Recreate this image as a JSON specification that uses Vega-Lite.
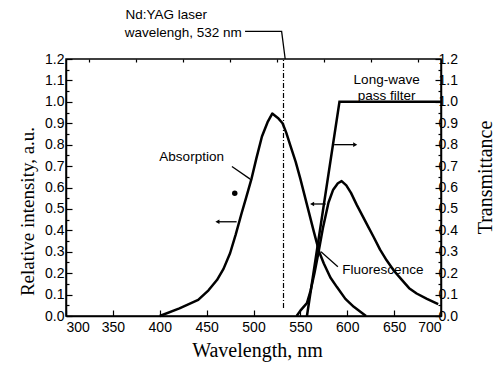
{
  "$schema": "https://vega.github.io/schema/vega-lite/v6.json",
  "width": 375,
  "height": 257,
  "autosize": {"type": "none"},
  "padding": {"left": 66, "top": 59, "right": 56, "bottom": 52},
  "background": "white",
  "config": {
    "view": {"stroke": "black", "strokeWidth": 1.5},
    "axis": {
      "domainColor": "black", "tickColor": "black", "labelColor": "black", "titleColor": "black",
      "grid": false, "labelFont": "Liberation Sans", "labelFontSize": 14, "labelOverlap": false,
      "titleFont": "Liberation Serif", "titleFontSize": 20, "titleFontWeight": "normal",
      "domainWidth": 1.5, "tickWidth": 1.2
    }
  },
  "datasets": {
    "curves": [
      {"series": "Absorption", "wl": 400, "v": 0},
      {"series": "Absorption", "wl": 421, "v": 0.036},
      {"series": "Absorption", "wl": 441, "v": 0.075},
      {"series": "Absorption", "wl": 452, "v": 0.12},
      {"series": "Absorption", "wl": 461, "v": 0.168},
      {"series": "Absorption", "wl": 468, "v": 0.22},
      {"series": "Absorption", "wl": 475, "v": 0.293},
      {"series": "Absorption", "wl": 481, "v": 0.38},
      {"series": "Absorption", "wl": 487, "v": 0.475},
      {"series": "Absorption", "wl": 492, "v": 0.55},
      {"series": "Absorption", "wl": 498, "v": 0.643},
      {"series": "Absorption", "wl": 503, "v": 0.735},
      {"series": "Absorption", "wl": 509, "v": 0.838},
      {"series": "Absorption", "wl": 515, "v": 0.905},
      {"series": "Absorption", "wl": 520, "v": 0.945},
      {"series": "Absorption", "wl": 526, "v": 0.925},
      {"series": "Absorption", "wl": 531, "v": 0.9},
      {"series": "Absorption", "wl": 535, "v": 0.855},
      {"series": "Absorption", "wl": 539, "v": 0.8},
      {"series": "Absorption", "wl": 545, "v": 0.72},
      {"series": "Absorption", "wl": 550, "v": 0.64},
      {"series": "Absorption", "wl": 557, "v": 0.52},
      {"series": "Absorption", "wl": 564, "v": 0.4},
      {"series": "Absorption", "wl": 570, "v": 0.3},
      {"series": "Absorption", "wl": 575, "v": 0.245},
      {"series": "Absorption", "wl": 582, "v": 0.18},
      {"series": "Absorption", "wl": 589, "v": 0.135},
      {"series": "Absorption", "wl": 598, "v": 0.08},
      {"series": "Absorption", "wl": 607, "v": 0.043},
      {"series": "Absorption", "wl": 614, "v": 0.02},
      {"series": "Absorption", "wl": 620, "v": 0},
      {"series": "Fluorescence", "wl": 546, "v": 0},
      {"series": "Fluorescence", "wl": 550, "v": 0.025},
      {"series": "Fluorescence", "wl": 553, "v": 0.04},
      {"series": "Fluorescence", "wl": 557, "v": 0.06},
      {"series": "Fluorescence", "wl": 561, "v": 0.12},
      {"series": "Fluorescence", "wl": 565, "v": 0.2},
      {"series": "Fluorescence", "wl": 569, "v": 0.29},
      {"series": "Fluorescence", "wl": 574, "v": 0.41},
      {"series": "Fluorescence", "wl": 580, "v": 0.53},
      {"series": "Fluorescence", "wl": 585, "v": 0.59},
      {"series": "Fluorescence", "wl": 590, "v": 0.62},
      {"series": "Fluorescence", "wl": 594, "v": 0.63},
      {"series": "Fluorescence", "wl": 599, "v": 0.61},
      {"series": "Fluorescence", "wl": 604, "v": 0.575},
      {"series": "Fluorescence", "wl": 610, "v": 0.52},
      {"series": "Fluorescence", "wl": 616, "v": 0.47},
      {"series": "Fluorescence", "wl": 622, "v": 0.42},
      {"series": "Fluorescence", "wl": 628, "v": 0.37},
      {"series": "Fluorescence", "wl": 635, "v": 0.31},
      {"series": "Fluorescence", "wl": 642, "v": 0.26},
      {"series": "Fluorescence", "wl": 650, "v": 0.21},
      {"series": "Fluorescence", "wl": 658, "v": 0.17},
      {"series": "Fluorescence", "wl": 666, "v": 0.13},
      {"series": "Fluorescence", "wl": 674, "v": 0.105},
      {"series": "Fluorescence", "wl": 685, "v": 0.08},
      {"series": "Fluorescence", "wl": 697, "v": 0.055}
    ],
    "filter": [
      {"wl": 557, "t": 0},
      {"wl": 591.7, "t": 1.0},
      {"wl": 700, "t": 1.0}
    ],
    "laser": [{"wl": 532, "v": 0.037, "v2": 1.2}],
    "segs": [
      {"grp": "laser", "ord": 1, "wl": 491, "v": 1.329},
      {"grp": "laser", "ord": 2, "wl": 530, "v": 1.329},
      {"grp": "laser", "ord": 3, "wl": 533.8, "v": 1.2},
      {"grp": "absLead", "ord": 1, "wl": 477, "v": 0.698},
      {"grp": "absLead", "ord": 2, "wl": 496.5, "v": 0.639},
      {"grp": "fluLead", "ord": 1, "wl": 572, "v": 0.3},
      {"grp": "fluLead", "ord": 2, "wl": 590, "v": 0.23},
      {"grp": "filArrow", "ord": 1, "wl": 586, "v": 0.8},
      {"grp": "filArrow", "ord": 2, "wl": 607, "v": 0.8},
      {"grp": "fluArrow", "ord": 1, "wl": 564, "v": 0.523},
      {"grp": "fluArrow", "ord": 2, "wl": 577, "v": 0.523},
      {"grp": "absArrow", "ord": 1, "wl": 463, "v": 0.44},
      {"grp": "absArrow", "ord": 2, "wl": 482, "v": 0.44}
    ],
    "heads": [
      {"dir": "right", "wl": 608.5, "v": 0.8},
      {"dir": "left", "wl": 562.5, "v": 0.523},
      {"dir": "left", "wl": 461.5, "v": 0.44}
    ],
    "dots": [{"wl": 480, "v": 0.573}],
    "labels": [
      {"text": "Nd:YAG laser", "wl": 407, "v": 1.407},
      {"text": "wavelengh, 532 nm", "wl": 425, "v": 1.323},
      {"text": "Long-wave", "wl": 642, "v": 1.103},
      {"text": "pass filter", "wl": 642, "v": 1.028},
      {"text": "Absorption", "wl": 434, "v": 0.743},
      {"text": "Fluorescence", "wl": 638, "v": 0.215}
    ]
  },
  "resolve": {"scale": {"y": "independent"}, "axis": {"x": "independent", "y": "independent"}},
  "layer": [
    {
      "layer": [
        {
          "data": {"name": "curves"},
          "mark": {"type": "line", "color": "black", "strokeWidth": 2.5, "strokeJoin": "round"},
          "encoding": {
            "x": {"field": "wl", "type": "quantitative", "scale": {"domain": [300, 700], "nice": false, "zero": false},
                  "axis": {"values": [300, 350, 400, 450, 500, 550, 600, 650, 700], "tickSize": -6, "labelPadding": 10,
                           "title": "Wavelength, nm", "titleBaseline": "middle", "titleX": 191, "titleY": 34}},
            "y": {"field": "v", "type": "quantitative", "scale": {"domain": [0, 1.2], "nice": false}, "axis": null},
            "detail": {"field": "series"}
          }
        },
        {
          "data": {"name": "laser"},
          "mark": {"type": "rule", "color": "black", "strokeWidth": 1.2, "strokeDash": [5, 2, 1, 2]},
          "encoding": {
            "x": {"field": "wl", "type": "quantitative"},
            "y": {"field": "v", "type": "quantitative", "axis": null},
            "y2": {"field": "v2"}
          }
        },
        {
          "data": {"name": "segs"},
          "mark": {"type": "line", "color": "black", "strokeWidth": 1.3},
          "encoding": {
            "x": {"field": "wl", "type": "quantitative"},
            "y": {"field": "v", "type": "quantitative", "axis": null},
            "detail": {"field": "grp"},
            "order": {"field": "ord"}
          }
        },
        {
          "data": {"name": "heads"},
          "transform": [{"filter": "datum.dir == 'right'"}],
          "mark": {"type": "point", "shape": "triangle-right", "filled": true, "color": "black", "size": 22, "opacity": 1},
          "encoding": {
            "x": {"field": "wl", "type": "quantitative"},
            "y": {"field": "v", "type": "quantitative", "axis": null}
          }
        },
        {
          "data": {"name": "heads"},
          "transform": [{"filter": "datum.dir == 'left'"}],
          "mark": {"type": "point", "shape": "triangle-left", "filled": true, "color": "black", "size": 22, "opacity": 1},
          "encoding": {
            "x": {"field": "wl", "type": "quantitative"},
            "y": {"field": "v", "type": "quantitative", "axis": null}
          }
        },
        {
          "data": {"name": "dots"},
          "mark": {"type": "point", "shape": "circle", "filled": true, "color": "black", "size": 30, "opacity": 1},
          "encoding": {
            "x": {"field": "wl", "type": "quantitative"},
            "y": {"field": "v", "type": "quantitative", "axis": null}
          }
        },
        {
          "data": {"name": "labels"},
          "mark": {"type": "text", "font": "Liberation Sans", "fontSize": 13.5, "color": "black", "align": "center", "baseline": "middle"},
          "encoding": {
            "x": {"field": "wl", "type": "quantitative"},
            "y": {"field": "v", "type": "quantitative", "axis": null},
            "text": {"field": "text"}
          }
        }
      ]
    },
    {
      "data": {"name": "filter"},
      "mark": {"type": "line", "color": "black", "strokeWidth": 2.5},
      "encoding": {
        "x": {"field": "wl", "type": "quantitative", "axis": null},
        "y": {"field": "t", "type": "quantitative", "scale": {"domain": [0, 1.2], "nice": false},
              "axis": {"orient": "right", "values": [0, 0.1, 0.2, 0.3, 0.4, 0.5, 0.6, 0.7, 0.8, 0.9, 1.0, 1.1, 1.2], "format": ".1f",
                       "tickSize": -6, "labelPadding": 3, "title": "Transmittance", "titleAngle": -90,
                       "titleBaseline": "middle", "titleAlign": "center", "titleAnchor": null, "titleX": 44, "titleY": 118}}
      }
    },
    {
      "data": {"name": "dots"},
      "mark": {"type": "point", "opacity": 0},
      "encoding": {
        "x": {"field": "wl", "type": "quantitative", "axis": null},
        "y": {"field": "v", "type": "quantitative", "scale": {"domain": [0, 1.2], "nice": false},
              "axis": {"orient": "left", "values": [0, 0.1, 0.2, 0.3, 0.4, 0.5, 0.6, 0.7, 0.8, 0.9, 1.0, 1.1, 1.2], "format": ".1f",
                       "tickSize": -6, "labelPadding": 8, "title": "Relative intensity, a.u.", "titleFontSize": 19,
                       "titleAngle": -90, "titleBaseline": "middle", "titleAlign": "center", "titleAnchor": null, "titleX": -39, "titleY": 152}}
      }
    },
    {
      "data": {"name": "dots"},
      "mark": {"type": "point", "opacity": 0},
      "encoding": {
        "x": {"field": "wl", "type": "quantitative",
              "axis": {"values": [325, 375, 425, 475, 525, 575, 625, 675], "tickSize": -3, "labels": false, "domain": false, "title": null}},
        "y": {"field": "v", "type": "quantitative", "scale": {"domain": [0, 1.2], "nice": false},
              "axis": {"values": [0.05, 0.15, 0.25, 0.35, 0.45, 0.55, 0.65, 0.75, 0.85, 0.95, 1.05, 1.15], "tickSize": -3, "labels": false, "domain": false, "title": null}}
      }
    },
    {
      "data": {"name": "dots"},
      "mark": {"type": "point", "opacity": 0},
      "encoding": {
        "x": {"field": "wl", "type": "quantitative", "axis": null},
        "y": {"field": "v", "type": "quantitative", "scale": {"domain": [0, 1.2], "nice": false},
              "axis": {"orient": "right", "values": [0.05, 0.15, 0.25, 0.35, 0.45, 0.55, 0.65, 0.75, 0.85, 0.95, 1.05, 1.15], "tickSize": -3, "labels": false, "domain": false, "title": null}}
      }
    }
  ]
}
